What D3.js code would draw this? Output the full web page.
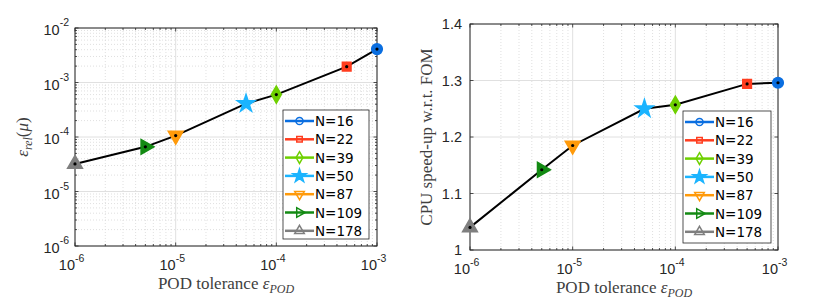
<!DOCTYPE html>
<html>
<head>
<meta charset="utf-8">
<script src="https://cdn.jsdelivr.net/npm/d3@7"></script>
<style>
  body { margin: 0; background: #fff; }
  svg { display: block; }
</style>
</head>
<body>
<svg id="chart" width="817" height="302"></svg>
<script>
// Series data
const labels = ['N=16', 'N=22', 'N=39', 'N=50', 'N=87', 'N=109', 'N=178'];
const tolerance = [1e-3, 5e-4, 1e-4, 5e-5, 1e-5, 5e-6, 1e-6];
const relError = [4.1e-3, 1.95e-3, 6.0e-4, 4.1e-4, 1.06e-4, 6.6e-5, 3.2e-5];
const speedup = [1.296, 1.294, 1.257, 1.250, 1.185, 1.142, 1.040];
const colors = ['#0a6ee0', '#ff3d1f', '#6ed000', '#1bb4ff', '#ff9a0a', '#138a13', '#7f7f7f'];
const markers = ['circle', 'square', 'diamond', 'star', 'tdown', 'tright', 'tup'];

// Tick labels
const xTickExp = [-6, -5, -4, -3];
const leftYTickExp = [-6, -5, -4, -3, -2];
const rightYTicks = [1, 1.1, 1.2, 1.3, 1.4];

const svg = d3.select('#chart');
const txtColor = '#262626';
const sans = 'Liberation Sans, Arial, sans-serif';
const legFont = 'DejaVu Sans, sans-serif';
const serif = 'Liberation Serif, Times New Roman, serif';

function minorLog(lo, hi) {
    const out = [];
    for (let e = lo; e < hi; e++) {
        for (let m = 2; m <= 9; m++) out.push(m * Math.pow(10, e));
    }
    return out;
}

function symbolPath(type, s) {
    const sym = {
        circle: d3.symbolCircle, square: d3.symbolSquare, diamond: d3.symbolDiamond,
        star: d3.symbolStar, tdown: d3.symbolTriangle, tright: d3.symbolTriangle, tup: d3.symbolTriangle
    }[type];
    return d3.symbol().type(sym).size(s)();
}
function symbolRot(type) {
    return type === 'tdown' ? 180 : type === 'tright' ? 90 : 0;
}
const plotSize = { circle: 90, square: 75, diamond: 85, star: 95, tdown: 95, tright: 95, tup: 95 };
const legSize = { circle: 40, square: 30, diamond: 40, star: 55, tdown: 40, tright: 40, tup: 40 };

function drawPanel(p) {
    const g = svg.append('g');
    const x = p.x, y = p.y;
    const [x0, x1] = x.range();
    const [y1, y0] = y.range();

    // grid
    const grid = g.append('g');
    grid.selectAll('.xminor').data(minorLog(-6, -3)).enter().append('line')
        .attr('x1', d => x(d)).attr('x2', d => x(d)).attr('y1', y0).attr('y2', y1)
        .attr('stroke', '#d8d8d8').attr('stroke-width', 0.8).attr('stroke-dasharray', '1,2');
    if (p.yMinor) {
        grid.selectAll('.yminor').data(p.yMinor).enter().append('line')
            .attr('x1', x0).attr('x2', x1).attr('y1', d => y(d)).attr('y2', d => y(d))
            .attr('stroke', '#d8d8d8').attr('stroke-width', 0.8).attr('stroke-dasharray', '1,2');
    }
    grid.selectAll('.xmajor').data(xTickExp).enter().append('line')
        .attr('x1', d => x(Math.pow(10, d))).attr('x2', d => x(Math.pow(10, d)))
        .attr('y1', y0).attr('y2', y1)
        .attr('stroke', '#e0e0e0').attr('stroke-width', 1);
    grid.selectAll('.ymajor').data(p.yMajor).enter().append('line')
        .attr('x1', x0).attr('x2', x1).attr('y1', d => y(d)).attr('y2', d => y(d))
        .attr('stroke', '#e0e0e0').attr('stroke-width', 1);

    // box
    g.append('rect').attr('x', x0).attr('y', y0).attr('width', x1 - x0).attr('height', y1 - y0)
        .attr('fill', 'none').attr('stroke', '#262626').attr('stroke-width', 1);

    // ticks (inward, all sides)
    const tk = g.append('g').attr('stroke', '#262626').attr('stroke-width', 0.8);
    const xMaj = xTickExp.map(e => Math.pow(10, e));
    [[xMaj, 3.5], [minorLog(-6, -3), 2]].forEach(([vals, len]) => {
        vals.forEach(v => {
            tk.append('line').attr('x1', x(v)).attr('x2', x(v)).attr('y1', y1).attr('y2', y1 - len);
            tk.append('line').attr('x1', x(v)).attr('x2', x(v)).attr('y1', y0).attr('y2', y0 + len);
        });
    });
    [[p.yMajor, 3.5], [p.yMinor || [], 2]].forEach(([vals, len]) => {
        vals.forEach(v => {
            tk.append('line').attr('x1', x0).attr('x2', x0 + len).attr('y1', y(v)).attr('y2', y(v));
            tk.append('line').attr('x1', x1).attr('x2', x1 - len).attr('y1', y(v)).attr('y2', y(v));
        });
    });

    // x tick labels 10^e
    xTickExp.forEach(e => {
        const xx = x(Math.pow(10, e));
        g.append('text').attr('x', xx).attr('y', y1 + 24).attr('text-anchor', 'end')
            .attr('font-family', sans).attr('font-size', 14.5).attr('fill', txtColor).text('10');
        g.append('text').attr('x', xx).attr('y', y1 + 16).attr('text-anchor', 'start')
            .attr('font-family', sans).attr('font-size', 10.5).attr('fill', txtColor).text(e);
    });

    // y tick labels
    if (p.yLog) {
        p.yLabelExp.forEach(e => {
            const yy = y(Math.pow(10, e));
            const sup = g.append('text').attr('x', x0 - 6).attr('y', yy - 2).attr('text-anchor', 'end')
                .attr('font-family', sans).attr('font-size', 10.5).attr('fill', txtColor).text(e);
            const w = sup.node().getComputedTextLength();
            g.append('text').attr('x', x0 - 6 - w).attr('y', yy + 7).attr('text-anchor', 'end')
                .attr('font-family', sans).attr('font-size', 14.5).attr('fill', txtColor).text('10');
        });
    } else {
        p.yMajor.forEach(v => {
            g.append('text').attr('x', x0 - 8).attr('y', y(v) + 5).attr('text-anchor', 'end')
                .attr('font-family', sans).attr('font-size', 14.5).attr('fill', txtColor).text(d3.format('~g')(v));
        });
    }

    // x title
    const xt = g.append('text').attr('x', (x0 + x1) / 2).attr('y', y1 + 43).attr('text-anchor', 'middle')
        .attr('font-family', serif).attr('font-size', 17).attr('fill', '#404040');
    xt.append('tspan').text('POD tolerance ');
    xt.append('tspan').attr('font-style', 'italic').text('\u03b5');
    xt.append('tspan').attr('font-style', 'italic').attr('font-size', 12).attr('dy', 4).text('POD');

    // y title
    const yt = g.append('text')
        .attr('transform', `translate(${p.yTitleX},${(y0 + y1) / 2}) rotate(-90)`)
        .attr('text-anchor', 'middle').attr('font-family', serif).attr('font-size', 17).attr('fill', '#404040');
    p.yTitle(yt);

    // data line
    const pts = tolerance.map((t, i) => [x(t), y(p.values[i])]);
    g.append('path').attr('d', d3.line()(pts)).attr('fill', 'none')
        .attr('stroke', '#000').attr('stroke-width', 2);

    // markers
    pts.forEach(([px, py], i) => {
        const m = markers[i];
        g.append('path').attr('d', symbolPath(m, plotSize[m]))
            .attr('transform', `translate(${px},${py}) rotate(${symbolRot(m)})`)
            .attr('fill', colors[i]).attr('stroke', colors[i]).attr('stroke-width', 1.5);
        if (m !== 'star') {
            g.append('circle').attr('cx', px).attr('cy', py).attr('r', 1.6).attr('fill', '#000');
        }
    });

    // legend
    const lg = g.append('g');
    lg.append('rect').attr('x', p.leg.x).attr('y', p.leg.y).attr('width', p.leg.w).attr('height', p.leg.h)
        .attr('fill', '#fff').attr('stroke', '#262626').attr('stroke-width', 0.8);
    labels.forEach((lab, i) => {
        const ly = p.leg.y + 11 + i * 18.3;
        const lx = p.leg.x + 2;
        lg.append('line').attr('x1', lx).attr('x2', lx + 29).attr('y1', ly).attr('y2', ly)
            .attr('stroke', colors[i]).attr('stroke-width', 2.5);
        const m = markers[i];
        lg.append('path').attr('d', symbolPath(m, legSize[m]))
            .attr('transform', `translate(${lx + 14.5},${ly}) rotate(${symbolRot(m)})`)
            .attr('fill', m === 'star' ? colors[i] : 'none').attr('stroke', colors[i]).attr('stroke-width', 1.5);
        lg.append('text').attr('x', lx + 30).attr('y', ly + 5)
            .attr('font-family', legFont).attr('font-size', 13.5).attr('fill', '#000').text(lab);
    });
}

// Left panel: relative error
drawPanel({
    x: d3.scaleLog().domain([1e-6, 1e-3]).range([75, 377]),
    y: d3.scaleLog().domain([1e-6, 1e-2]).range([246, 28]),
    yLog: true,
    yMajor: leftYTickExp.map(e => Math.pow(10, e)),
    yMinor: minorLog(-6, -2),
    yLabelExp: leftYTickExp,
    values: relError,
    yTitleX: 28,
    yTitle: t => {
        t.append('tspan').attr('font-style', 'italic').text('\u03b5');
        t.append('tspan').attr('font-style', 'italic').attr('font-size', 12).attr('dy', 4).text('rel');
        t.append('tspan').attr('dy', -4).text('(');
        t.append('tspan').attr('font-style', 'italic').text('\u03bc');
        t.append('tspan').text(')');
    },
    leg: { x: 283, y: 110, w: 86, h: 129 }
});

// Right panel: CPU speed-up
drawPanel({
    x: d3.scaleLog().domain([1e-6, 1e-3]).range([470, 778]),
    y: d3.scaleLinear().domain([1, 1.4]).range([250, 24]),
    yLog: false,
    yMajor: rightYTicks,
    yMinor: null,
    values: speedup,
    yTitleX: 432,
    yTitle: t => t.text('CPU speed-up w.r.t. FOM'),
    leg: { x: 683, y: 111, w: 88, h: 132 }
});
</script>
</body>
</html>
